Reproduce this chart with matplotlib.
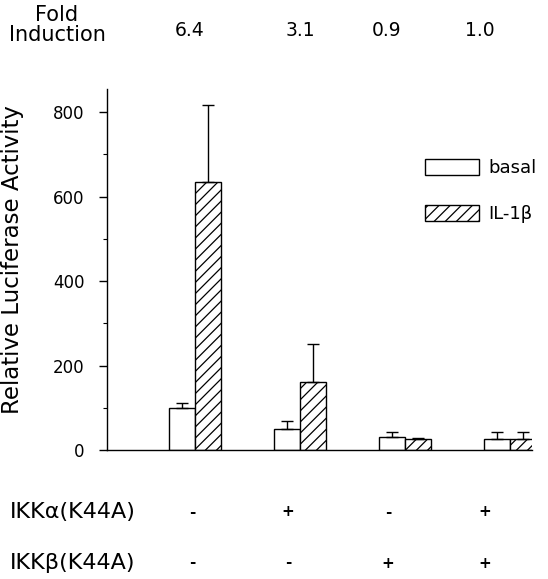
import matplotlib
matplotlib.use("Agg")
import matplotlib.pyplot as plt
import numpy as np

plt.rcParams['font.family'] = ['DejaVu Sans']
plt.rcParams['hatch.linewidth'] = 0.9

fold_induction = ["6.4", "3.1", "0.9", "1.0"]
basal = [99, 50, 31, 26]
basal_err = [12, 19, 12, 17]
il1b = [634, 161, 26, 26]
il1b_err = [182, 90, 3, 17]
ikka = ["-", "+", "-", "+"]
ikkb = ["-", "-", "+", "+"]
series_names = ["basal", "IL-1\u03b2"]

fig = plt.figure(figsize=(5.48, 5.79), dpi=100)
ax = fig.add_axes([0.195, 0.2228, 0.776, 0.623])

x = np.arange(len(basal))
w = 0.25
ax.bar(x - w/2, basal, w, facecolor='white', edgecolor='black', linewidth=1.0,
       yerr=[np.zeros(len(basal)), basal_err], capsize=4,
       error_kw=dict(elinewidth=1.0, capthick=1.0, ecolor='black'), label=series_names[0])
ax.bar(x + w/2, il1b, w, facecolor='white', edgecolor='black', linewidth=1.0, hatch='///',
       yerr=[np.zeros(len(il1b)), il1b_err], capsize=4,
       error_kw=dict(elinewidth=1.0, capthick=1.0, ecolor='black'), label=series_names[1])

ax.set_xlim(-0.84, 3.21)
ax.set_ylim(0, 854)
ax.set_yticks([0, 200, 400, 600, 800])
ax.set_yticks([100, 300, 500, 700], minor=True)
ax.tick_params(axis='y', which='major', length=6, width=1, labelsize=12, pad=10)
ax.tick_params(axis='y', which='minor', length=3, width=0.8)
ax.set_xticks([])
for s in ['top', 'right']:
    ax.spines[s].set_visible(False)
ax.spines['left'].set_linewidth(1)
ax.spines['bottom'].set_linewidth(1)
ax.set_ylabel("Relative Luciferase Activity", fontsize=16.5)
ax.yaxis.set_label_coords(-0.196, 0.529)

leg = fig.legend(loc='upper left', bbox_to_anchor=(425/548, 1 - 159/579), frameon=False,
                 fontsize=13, handlelength=3.0, handleheight=0.95, handletextpad=0.5,
                 labelspacing=1.55, borderpad=0, borderaxespad=0)

# Fold induction row
fig.text(57/548, 1 - 25/579, "Fold\nInduction", ha='center', va='center', fontsize=15,
         linespacing=1.0)
fold_x = [190, 300, 387, 480]
for fx, lab in zip(fold_x, fold_induction):
    fig.text(fx/548, 1 - 30/579, lab, ha='center', va='center', fontsize=13.5)

# Bottom rows
fig.text(10/548, 1 - 512/579, "IKK\u03b1(K44A)", ha='left', va='center', fontsize=16)
fig.text(10/548, 1 - 563/579, "IKK\u03b2(K44A)", ha='left', va='center', fontsize=16)
sym_x = [192, 288, 388, 485]
for sx, a, b in zip(sym_x, ikka, ikkb):
    fig.text(sx/548, 1 - 512/579, a, ha='center', va='center', fontsize=11, fontweight='bold')
    fig.text(sx/548, 1 - 563/579, b, ha='center', va='center', fontsize=11, fontweight='bold')

fig.savefig("out.png", dpi=100)
